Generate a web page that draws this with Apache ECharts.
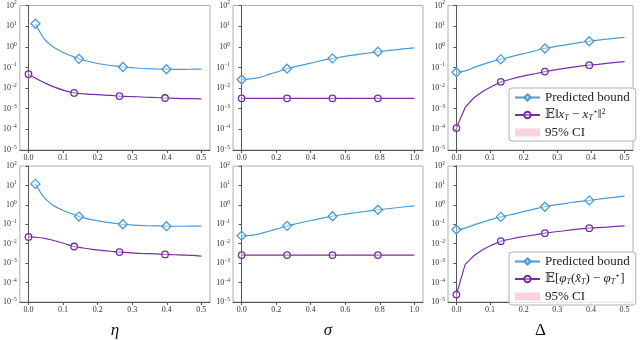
<!DOCTYPE html>
<html><head><meta charset="utf-8">
<script src="https://cdn.jsdelivr.net/npm/echarts@6/dist/echarts.min.js"></script>
<style>html,body{margin:0;padding:0;background:#fff}#c{width:640px;height:340px}</style>
</head><body><div id="c"></div>
<script>
// ---- data ----
const ETA_BOUND_X = [0.02,0.045,0.071,0.096,0.121,0.146,0.172,0.197,0.222,0.247,0.273,0.298,0.323,0.348,0.374,0.399,0.424,0.449,0.475,0.5];
const GRID_05 = [0,0.026,0.053,0.079,0.105,0.132,0.158,0.184,0.211,0.237,0.263,0.289,0.316,0.342,0.368,0.395,0.421,0.447,0.474,0.5];
const GRID_10 = [0,0.053,0.105,0.158,0.211,0.263,0.316,0.368,0.421,0.474,0.526,0.579,0.632,0.684,0.737,0.789,0.842,0.895,0.947,1.0];

const etaBoundTop = [13,2.5,1.0,0.58,0.38,0.26,0.2,0.16,0.135,0.118,0.105,0.097,0.091,0.087,0.084,0.082,0.081,0.081,0.082,0.083];
const etaErrTop   = [0.047,0.027,0.016,0.0105,0.0075,0.0058,0.0053,0.0049,0.0047,0.0044,0.0041,0.0039,0.0038,0.0036,0.0035,0.0033,0.0032,0.0031,0.0031,0.0030];
const sigBoundTop = [0.026,0.028,0.033,0.046,0.063,0.087,0.112,0.141,0.178,0.224,0.275,0.324,0.38,0.437,0.5,0.575,0.646,0.724,0.813,0.891];
const sigErrTop   = [0.0032,0.0032,0.0032,0.0032,0.0032,0.0032,0.0032,0.0032,0.0032,0.0032,0.0032,0.0032,0.0032,0.0032,0.0032,0.0032,0.0032,0.0032,0.0032,0.0032];
const delBoundTop = [0.058,0.068,0.1,0.141,0.19,0.245,0.316,0.407,0.513,0.66,0.83,1.0,1.17,1.38,1.62,1.86,2.09,2.34,2.63,2.88];
const delErrTop   = [0.000115,0.00115,0.0035,0.007,0.012,0.02,0.026,0.034,0.042,0.051,0.063,0.074,0.087,0.1,0.115,0.129,0.141,0.158,0.174,0.19];

const etaBoundBot = [12,2.4,0.96,0.56,0.37,0.25,0.19,0.155,0.13,0.114,0.1,0.093,0.087,0.084,0.082,0.08,0.079,0.079,0.08,0.081];
const etaErrBot   = [0.0224,0.0209,0.0178,0.0138,0.01,0.0072,0.006,0.0051,0.0045,0.0041,0.0037,0.0035,0.0032,0.0031,0.003,0.0028,0.0027,0.0026,0.0025,0.0023];
const sigBoundBot = [0.026,0.027,0.032,0.044,0.06,0.083,0.107,0.135,0.17,0.213,0.26,0.31,0.365,0.42,0.49,0.56,0.63,0.71,0.8,0.89];
const sigErrBot   = [0.0026,0.0026,0.0026,0.0026,0.0026,0.0026,0.0026,0.0026,0.0026,0.0026,0.0026,0.0026,0.0026,0.0026,0.0026,0.0026,0.0026,0.0026,0.0026,0.0026];
const delBoundBot = [0.054,0.063,0.093,0.13,0.18,0.24,0.3,0.39,0.5,0.64,0.8,0.96,1.12,1.32,1.5,1.7,1.95,2.2,2.5,2.8];
const delErrBot   = [0.000024,0.00087,0.0025,0.005,0.0085,0.0135,0.017,0.021,0.025,0.0295,0.035,0.04,0.045,0.051,0.058,0.063,0.068,0.072,0.078,0.083];

const X_TICKS_05 = [0,0.1,0.2,0.3,0.4,0.5];
const X_TICKS_10 = [0,0.2,0.4,0.6,0.8,1.0];
const AXIS_TITLES = ['η','σ','Δ'];
const NAME_BOUND = 'Predicted bound';
const NAME_MSE = 'mse';
const NAME_GAP = 'gap';
const NAME_CI = '95% CI';

// ---- style ----
const BLUE = '#4a9ad6', PURPLE = '#7a2da3', PINK = '#fbd3de';
const SERIF = '"Liberation Serif","DejaVu Serif",serif';

const panels = [
  {bx: ETA_BOUND_X, ex: GRID_05, b: etaBoundTop, e: etaErrTop, range:[-0.025,0.525], ticks:X_TICKS_05, err: NAME_MSE, kinkErr:false},
  {bx: GRID_10, ex: GRID_10, b: sigBoundTop, e: sigErrTop, range:[-0.05,1.05], ticks:X_TICKS_10, err: NAME_MSE, kinkErr:false},
  {bx: GRID_05, ex: GRID_05, b: delBoundTop, e: delErrTop, range:[-0.025,0.525], ticks:X_TICKS_05, err: NAME_MSE, kinkErr:true},
  {bx: ETA_BOUND_X, ex: GRID_05, b: etaBoundBot, e: etaErrBot, range:[-0.025,0.525], ticks:X_TICKS_05, err: NAME_GAP, kinkErr:false},
  {bx: GRID_10, ex: GRID_10, b: sigBoundBot, e: sigErrBot, range:[-0.05,1.05], ticks:X_TICKS_10, err: NAME_GAP, kinkErr:false},
  {bx: GRID_05, ex: GRID_05, b: delBoundBot, e: delErrBot, range:[-0.025,0.525], ticks:X_TICKS_05, err: NAME_GAP, kinkErr:true}
];
const cols = [{left:17,width:193},{left:233,width:190},{left:448,width:185}];
const rows = [{top:3,height:147},{top:166,height:147}];

const grid=[], xAxis=[], yAxis=[], series=[];
panels.forEach((p,i)=>{
  const r = Math.floor(i/3), c = i%3;
  grid.push({left:cols[c].left, top:rows[r].top, width:cols[c].width, height:rows[r].height,
    show:true, borderColor:'#b0b0b0', borderWidth:1, containLabel:false});
  xAxis.push({type:'value', gridIndex:i, min:p.range[0], max:p.range[1],
    splitLine:{show:false},
    axisLine:{show:true, onZero:false, lineStyle:{color:'#555', width:1}},
    axisTick:{show:true, length:3, customValues:p.ticks, lineStyle:{color:'#555'}},
    axisLabel:{customValues:p.ticks, formatter:v=>v.toFixed(1), fontFamily:SERIF, fontSize:8, color:'#333', margin:4},
    name: r===1 ? AXIS_TITLES[c] : '', nameLocation:'middle', nameGap:20,
    nameTextStyle:{fontFamily:SERIF, fontSize:17, fontStyle: c===2?'normal':'italic', color:'#111'}
  });
  yAxis.push({type:'log', logBase:10, gridIndex:i, min:1e-5, max:100, splitNumber:7,
    splitLine:{show:false},
    axisLine:{show:true, lineStyle:{color:'#555', width:1}},
    axisTick:{show:true, length:3, lineStyle:{color:'#555'}},
    axisLabel:{fontFamily:SERIF, fontSize:8, color:'#333', margin:3,
      formatter:v=>{const e=Math.round(Math.log10(v)); return '10{s|'+(e<0?'−'+(-e):e)+'}';},
      rich:{s:{fontSize:5.5, verticalAlign:'top', fontFamily:SERIF, color:'#333', padding:[0,0,5,0]}}}
  });
  const mk = (xs, ys) => ys.map((v,k)=> (k%5===0) ? [xs[k], v] : {value:[xs[k], v], symbol:'none'});
  series.push({type:'line', name:NAME_BOUND, xAxisIndex:i, yAxisIndex:i, data:mk(p.bx,p.b),
    symbol:'diamond', symbolSize:9, showAllSymbol:true, smooth:0.3,
    lineStyle:{color:BLUE, width:1.2}, itemStyle:{color:'rgba(255,255,255,0.4)', borderColor:BLUE, borderWidth:1.3},
    emphasis:{disabled:true}, animation:false, z:3});
  series.push({type:'line', name:p.err, xAxisIndex:i, yAxisIndex:i, data:mk(p.ex,p.e),
    symbol:'circle', symbolSize:6.5, showAllSymbol:true, smooth: p.kinkErr ? false : 0.3,
    lineStyle:{color:PURPLE, width:1.2}, itemStyle:{color:'rgba(255,255,255,0.4)', borderColor:PURPLE, borderWidth:1.3},
    emphasis:{disabled:true}, animation:false, z:3});
});
series.push({type:'line', name:NAME_CI, xAxisIndex:2, yAxisIndex:2, data:[], itemStyle:{color:PINK}, lineStyle:{color:PINK}});

const rich = {
  i:{fontStyle:'italic', fontFamily:SERIF, fontSize:13},
  sub:{fontStyle:'italic', fontFamily:SERIF, fontSize:8, verticalAlign:'bottom', padding:[6,0,0,0]},
  sup:{fontFamily:SERIF, fontSize:8, verticalAlign:'top', padding:[0,0,6,0]},
  n:{fontFamily:SERIF, fontSize:13}
};
const fmt = name => {
  if (name===NAME_MSE) return '{n|𝔼‖}{i|x}{sub|T}{n| − }{i|x}{sub|T}{sup|⋆}{n|‖}{sup|2}';
  if (name===NAME_GAP) return '{n|𝔼[}{i|φ}{sub|T}{n|(}{i|x̂}{sub|T}{n|) − }{i|φ}{sub|T}{sup|⋆}{n|]}';
  return '{n|'+name+'}';
};
const legendBase = {orient:'vertical', itemWidth:25, itemHeight:8, itemGap:4,
  borderColor:'#b0b0b0', borderWidth:1, borderRadius:3, padding:[3,6,2,5], backgroundColor:'rgba(255,255,255,0.85)',
  textStyle:{fontFamily:SERIF, fontSize:13, color:'#222', rich:rich}, formatter:fmt, selectedMode:false};
const legend = [
  Object.assign({}, legendBase, {left:509, top:88, data:[{name:NAME_BOUND},{name:NAME_MSE},{name:NAME_CI, icon:'rect'}]}),
  Object.assign({}, legendBase, {left:509, top:252, data:[{name:NAME_BOUND},{name:NAME_GAP},{name:NAME_CI, icon:'rect'}]})
];

const chart = echarts.init(document.getElementById('c'), null, {renderer:'canvas'});
chart.setOption({animation:false, backgroundColor:'#fff', grid, xAxis, yAxis, series, legend});
</script></body></html>
